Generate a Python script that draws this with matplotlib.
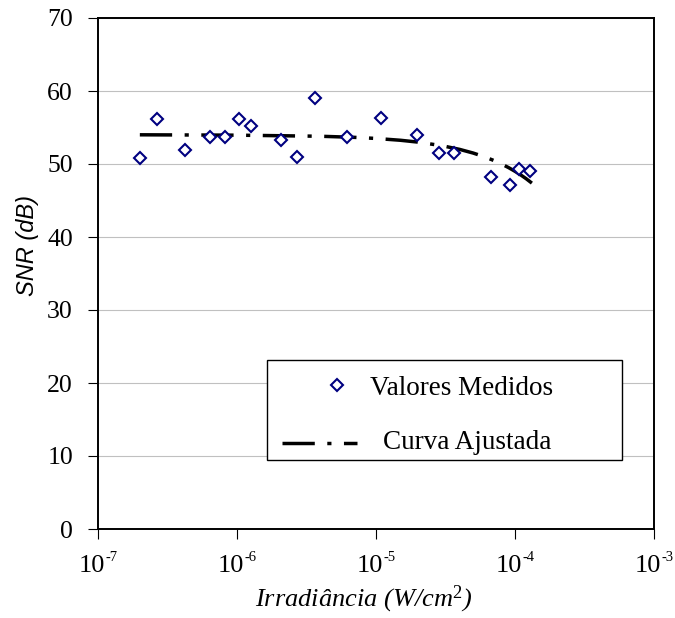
import matplotlib
matplotlib.use("Agg")
import matplotlib.pyplot as plt
import matplotlib.transforms as mtransforms
from matplotlib.ticker import FixedLocator, NullFormatter
from matplotlib.patches import Rectangle
from matplotlib.lines import Line2D

# ---- data ----
irr_medidos = [2.0e-7, 2.67e-7, 4.2e-7, 6.4e-7, 8.2e-7, 1.03e-6, 1.26e-6, 2.08e-6,
               2.72e-6, 3.62e-6, 6.2e-6, 1.08e-5, 1.98e-5, 2.82e-5, 3.64e-5,
               6.76e-5, 9.25e-5, 1.06e-4, 1.29e-4]
snr_medidos = [50.8, 56.1, 51.9, 53.7, 53.7, 56.1, 55.2, 53.3,
               51.0, 59.0, 53.7, 56.3, 54.0, 51.5, 51.5,
               48.2, 47.1, 49.3, 49.0]

irr_ajuste = [2.0e-7, 1e-6, 4e-6, 7e-6, 1e-5, 1.5e-5, 2e-5, 3e-5, 4e-5, 5e-5,
              6e-5, 7e-5, 8e-5, 9e-5, 1e-4, 1.1e-4, 1.2e-4, 1.35e-4]
snr_ajuste = [54.0, 53.95, 53.8, 53.65, 53.5, 53.25, 53.0, 52.5, 52.0, 51.5,
              51.0, 50.5, 50.0, 49.5, 49.0, 48.5, 48.0, 47.25]

y_ticks = [0, 10, 20, 30, 40, 50, 60, 70]
x_ticks = [1e-7, 1e-6, 1e-5, 1e-4, 1e-3]
x_tick_base = "10"
x_tick_exps = ["-7", "-6", "-5", "-4", "-3"]

legend_labels = ["Valores Medidos", "Curva Ajustada"]
x_label = "Irradiância (W/cm$^2$)"
y_label = "SNR (dB)"

# ---- styling ----
plt.rcParams['mathtext.fontset'] = 'custom'
plt.rcParams['mathtext.rm'] = 'Liberation Serif'
plt.rcParams['mathtext.it'] = 'Liberation Serif:italic'

SERIF = 'Liberation Serif'
NAVY = '#000080'
DASH = (0, (9.3, 3.6, 1.2, 3.6))

fig = plt.figure(figsize=(6.75, 6.18), dpi=100)
ax = fig.add_axes([98/675, 1 - 529/618, (654 - 98)/675, (529 - 18)/618])

ax.set_xscale('log')
ax.set_xlim(1e-7, 1e-3)
ax.set_ylim(0, 70)

ax.yaxis.set_major_locator(FixedLocator(y_ticks))
ax.xaxis.set_major_locator(FixedLocator(x_ticks))
ax.xaxis.set_minor_locator(FixedLocator([]))
ax.xaxis.set_major_formatter(NullFormatter())
ax.xaxis.set_minor_formatter(NullFormatter())

ax.grid(axis='y', color='#c0c0c0', lw=0.8)
ax.set_axisbelow(True)

for s in ax.spines.values():
    s.set_linewidth(1.4)
    s.set_color('black')

ax.tick_params(axis='y', direction='out', length=7, width=0.8, pad=11,
               labelsize=18.5, labelfontfamily=SERIF)
ax.tick_params(axis='x', direction='out', length=7, width=0.8)
ax.tick_params(axis='x', which='minor', length=0)

# x tick labels in the "10" + small raised exponent style
blend = mtransforms.blended_transform_factory(ax.transData, ax.transAxes)
def px(dx, dy):
    return mtransforms.ScaledTranslation(dx / 100, dy / 100, fig.dpi_scale_trans)
for t, e in zip(x_ticks, x_tick_exps):
    ax.text(t, 0, x_tick_base, transform=blend + px(7.5, -43), ha='right',
            va='baseline', fontfamily=SERIF, fontsize=19, clip_on=False)
    ax.text(t, 0, e, transform=blend + px(7.5, -32), ha='left',
            va='baseline', fontfamily=SERIF, fontsize=10.5, clip_on=False)

# fitted curve
ax.plot(irr_ajuste, snr_ajuste, color='black', lw=2.5, linestyle=DASH,
        dash_capstyle='butt', zorder=2)
# measured values
ax.plot(irr_medidos, snr_medidos, linestyle='none', marker='D', markersize=6.5,
        markerfacecolor='white', markeredgecolor=NAVY, markeredgewidth=1.5, zorder=3)

ax.set_xlabel(x_label, fontfamily=SERIF, fontstyle='italic', fontsize=19)
ax.xaxis.set_label_coords(0.477, -0.107)
ax.set_ylabel(y_label, fontfamily='Liberation Sans', fontstyle='italic', fontsize=17)
ax.yaxis.set_label_coords(-0.107, 0.554)

# legend box (drawn in axes coordinates)
ax.add_patch(Rectangle((0.304, 0.135), 0.638, 0.196, transform=ax.transAxes,
                       facecolor='white', edgecolor='black', lw=1.0, zorder=4))
ax.add_line(Line2D([0.430], [0.282], transform=ax.transAxes, linestyle='none',
                   marker='D', markersize=6.5, markerfacecolor='white',
                   markeredgecolor=NAVY, markeredgewidth=1.5, zorder=5))
ax.add_line(Line2D([0.331, 0.466], [0.168, 0.168], transform=ax.transAxes,
                   color='black', lw=2.5, linestyle=DASH, dash_capstyle='butt', zorder=5))
ax.text(0.489, 0.262, legend_labels[0], transform=ax.transAxes, fontfamily=SERIF,
        fontsize=19.5, va='baseline', ha='left', zorder=6)
ax.text(0.513, 0.157, legend_labels[1], transform=ax.transAxes, fontfamily=SERIF,
        fontsize=19.5, va='baseline', ha='left', zorder=6)

fig.savefig('out.png', dpi=100)
